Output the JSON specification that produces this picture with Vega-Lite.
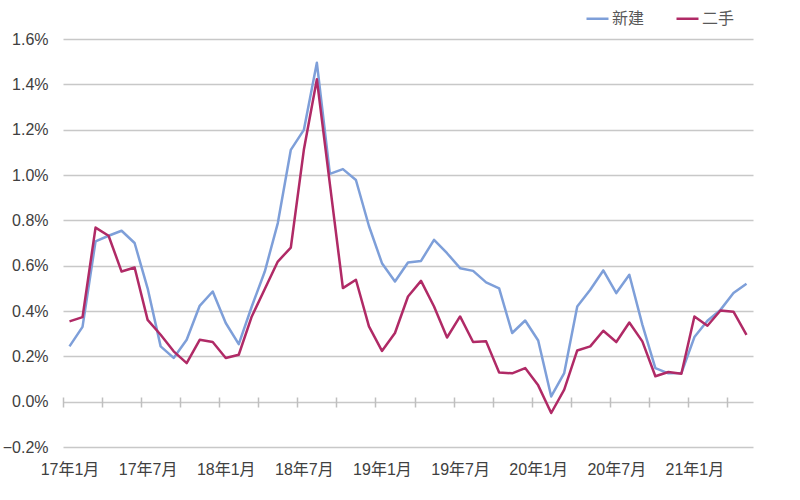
{
  "$schema": "https://vega.github.io/schema/vega-lite/v6.json",
  "width": 690,
  "height": 408,
  "autosize": {"type": "none"},
  "padding": {"left": 63, "top": 39, "right": 47, "bottom": 53},
  "background": "white",
  "config": {"view": {"stroke": null}, "font": "Liberation Sans"},
  "datasets": {
    "d": [
      {"m":"17年1月","s":"新建","v":0.244},{"m":"17年2月","s":"新建","v":0.33},{"m":"17年3月","s":"新建","v":0.707},{"m":"17年4月","s":"新建","v":0.732},{"m":"17年5月","s":"新建","v":0.754},{"m":"17年6月","s":"新建","v":0.70},{"m":"17年7月","s":"新建","v":0.50},{"m":"17年8月","s":"新建","v":0.244},{"m":"17年9月","s":"新建","v":0.193},{"m":"17年10月","s":"新建","v":0.273},{"m":"17年11月","s":"新建","v":0.423},{"m":"17年12月","s":"新建","v":0.486},
      {"m":"18年1月","s":"新建","v":0.347},{"m":"18年2月","s":"新建","v":0.254},{"m":"18年3月","s":"新建","v":0.42},{"m":"18年4月","s":"新建","v":0.574},{"m":"18年5月","s":"新建","v":0.788},{"m":"18年6月","s":"新建","v":1.111},{"m":"18年7月","s":"新建","v":1.199},{"m":"18年8月","s":"新建","v":1.495},{"m":"18年9月","s":"新建","v":1.005},{"m":"18年10月","s":"新建","v":1.026},{"m":"18年11月","s":"新建","v":0.978},{"m":"18年12月","s":"新建","v":0.775},
      {"m":"19年1月","s":"新建","v":0.611},{"m":"19年2月","s":"新建","v":0.53},{"m":"19年3月","s":"新建","v":0.614},{"m":"19年4月","s":"新建","v":0.621},{"m":"19年5月","s":"新建","v":0.714},{"m":"19年6月","s":"新建","v":0.655},{"m":"19年7月","s":"新建","v":0.589},{"m":"19年8月","s":"新建","v":0.577},{"m":"19年9月","s":"新建","v":0.526},{"m":"19年10月","s":"新建","v":0.50},{"m":"19年11月","s":"新建","v":0.303},{"m":"19年12月","s":"新建","v":0.358},
      {"m":"20年1月","s":"新建","v":0.27},{"m":"20年2月","s":"新建","v":0.023},{"m":"20年3月","s":"新建","v":0.126},{"m":"20年4月","s":"新建","v":0.42},{"m":"20年5月","s":"新建","v":0.494},{"m":"20年6月","s":"新建","v":0.579},{"m":"20年7月","s":"新建","v":0.479},{"m":"20年8月","s":"新建","v":0.56},{"m":"20年9月","s":"新建","v":0.34},{"m":"20年10月","s":"新建","v":0.148},{"m":"20年11月","s":"新建","v":0.125},{"m":"20年12月","s":"新建","v":0.126},
      {"m":"21年1月","s":"新建","v":0.285},{"m":"21年2月","s":"新建","v":0.357},{"m":"21年3月","s":"新建","v":0.405},{"m":"21年4月","s":"新建","v":0.479},{"m":"21年5月","s":"新建","v":0.52},
      {"m":"17年1月","s":"二手","v":0.354},{"m":"17年2月","s":"二手","v":0.373},{"m":"17年3月","s":"二手","v":0.768},{"m":"17年4月","s":"二手","v":0.732},{"m":"17年5月","s":"二手","v":0.574},{"m":"17年6月","s":"二手","v":0.592},{"m":"17年7月","s":"二手","v":0.361},{"m":"17年8月","s":"二手","v":0.295},{"m":"17年9月","s":"二手","v":0.222},{"m":"17年10月","s":"二手","v":0.17},{"m":"17年11月","s":"二手","v":0.273},{"m":"17年12月","s":"二手","v":0.263},
      {"m":"18年1月","s":"二手","v":0.193},{"m":"18年2月","s":"二手","v":0.207},{"m":"18年3月","s":"二手","v":0.376},{"m":"18年4月","s":"二手","v":0.497},{"m":"18年5月","s":"二手","v":0.618},{"m":"18年6月","s":"二手","v":0.68},{"m":"18年7月","s":"二手","v":1.111},{"m":"18年8月","s":"二手","v":1.422},{"m":"18年9月","s":"二手","v":0.96},{"m":"18年10月","s":"二手","v":0.501},{"m":"18年11月","s":"二手","v":0.538},{"m":"18年12月","s":"二手","v":0.332},
      {"m":"19年1月","s":"二手","v":0.224},{"m":"19年2月","s":"二手","v":0.303},{"m":"19年3月","s":"二手","v":0.464},{"m":"19年4月","s":"二手","v":0.533},{"m":"19年5月","s":"二手","v":0.42},{"m":"19年6月","s":"二手","v":0.283},{"m":"19年7月","s":"二手","v":0.376},{"m":"19年8月","s":"二手","v":0.263},{"m":"19年9月","s":"二手","v":0.266},{"m":"19年10月","s":"二手","v":0.129},{"m":"19年11月","s":"二手","v":0.125},{"m":"19年12月","s":"二手","v":0.148},
      {"m":"20年1月","s":"二手","v":0.072},{"m":"20年2月","s":"二手","v":-0.05},{"m":"20年3月","s":"二手","v":0.053},{"m":"20年4月","s":"二手","v":0.226},{"m":"20年5月","s":"二手","v":0.244},{"m":"20年6月","s":"二手","v":0.313},{"m":"20年7月","s":"二手","v":0.263},{"m":"20年8月","s":"二手","v":0.349},{"m":"20年9月","s":"二手","v":0.266},{"m":"20年10月","s":"二手","v":0.112},{"m":"20年11月","s":"二手","v":0.131},{"m":"20年12月","s":"二手","v":0.123},
      {"m":"21年1月","s":"二手","v":0.376},{"m":"21年2月","s":"二手","v":0.335},{"m":"21年3月","s":"二手","v":0.402},{"m":"21年4月","s":"二手","v":0.397},{"m":"21年5月","s":"二手","v":0.295}
    ]
  },
  "data": {"name": "d"},
  "encoding": {
    "y": {
      "field": "v", "type": "quantitative",
      "scale": {"domain": [-0.2, 1.6], "nice": false, "zero": false},
      "axis": {
        "values": [-0.2, 0, 0.2, 0.4, 0.6, 0.8, 1.0, 1.2, 1.4, 1.6],
        "labelExpr": "format(datum.value, '.1f') + '%'",
        "domain": false, "ticks": false, "grid": true,
        "gridColor": "#c8c8c8", "gridWidth": 1.5,
        "labelFontSize": 16, "labelFont": "Liberation Sans", "labelColor": "#404040",
        "labelPadding": 15, "title": null
      }
    },
    "color": {
      "field": "s", "type": "nominal",
      "scale": {"domain": ["新建", "二手"], "range": ["#7E9FD9", "#B02A66"]},
      "legend": {
        "orient": "none", "legendX": 522, "legendY": -33,
        "direction": "horizontal", "title": null,
        "symbolType": "stroke", "symbolSize": 484, "symbolStrokeWidth": 2.5,
        "labelFontSize": 16, "labelFont": "Noto Sans CJK SC", "labelColor": "#595959",
        "columnPadding": 26, "labelOffset": 2
      }
    }
  },
  "layer": [
    {
      "transform": [{"filter": "datum.s === '新建'"}],
      "mark": {"type": "line", "strokeWidth": 2.5, "strokeJoin": "round"},
      "encoding": {
        "x": {
          "field": "m", "type": "ordinal", "sort": null,
          "scale": {"type": "point", "padding": 0.5},
          "axis": {
            "orient": "bottom",
            "values": ["17年1月","17年7月","18年1月","18年7月","19年1月","19年7月","20年1月","20年7月","21年1月"],
            "ticks": false, "domain": false, "grid": false, "labelAngle": 0,
            "labelOverlap": false, "labelFontSize": 16,
            "labelFont": "Liberation Sans, Noto Sans CJK SC", "labelColor": "#404040",
            "labelPadding": 14, "title": null
          }
        }
      }
    },
    {
      "transform": [{"filter": "datum.s === '二手'"}],
      "mark": {"type": "line", "strokeWidth": 2.5, "strokeJoin": "round"},
      "encoding": {
        "x": {
          "field": "m", "type": "ordinal", "sort": null,
          "scale": {"type": "point", "padding": 0.5},
          "axis": {
            "orient": "bottom",
            "values": ["17年1月","17年4月","17年7月","17年10月","18年1月","18年4月","18年7月","18年10月","19年1月","19年4月","19年7月","19年10月","20年1月","20年4月","20年7月","20年10月","21年1月","21年4月"],
            "labels": false, "domain": false, "grid": false,
            "ticks": true, "tickSize": 10, "tickColor": "#bfbfbf", "tickWidth": 1.5,
            "tickOffset": -6.5, "offset": -50, "title": null
          }
        }
      }
    }
  ],
  "resolve": {"axis": {"x": "independent"}}
}
